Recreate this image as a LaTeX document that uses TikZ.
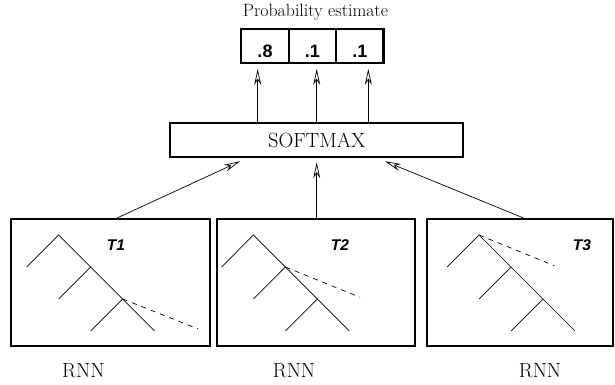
\documentclass[tikz,border=0pt]{standalone}
\usepackage{fontspec}
\newfontfamily\hv{Liberation Sans}
\usetikzlibrary{arrows.meta}

\begin{document}
\begin{tikzpicture}[x=1pt,y=-1pt,
  frame/.style={draw,line width=2.2pt,rectangle,inner sep=0pt},
  % digits sit low in their cells: baseline about 11.5pt below the centre
  cell/.style={frame,minimum width=47.4pt,minimum height=34pt,text height=23pt,text depth=0pt,
    font=\hv\bfseries\fontsize{18}{18}\selectfont},
  rnnbox/.style={frame,minimum height=127pt},
  arr/.style={line width=0.7pt,-{Stealth[open,length=16pt,width=7pt,inset=5pt,line width=0.7pt]}},
  branch/.style={line width=0.7pt},
  guess/.style={line width=0.7pt,dash pattern=on 5pt off 5pt},
  tag/.style={font=\hv\bfseries\itshape\fontsize{15.5}{15.5}\selectfont},
  caption/.style={font=\fontsize{20.5}{20.5}\selectfont}
]
\useasboundingbox (0,0) rectangle (615,384);

% output distribution
\node[font=\fontsize{17.8}{17.8}\selectfont] (title) at (315.5,12) {Probability estimate};
\node[cell] (p1) at (265,46.3) {.8};
\node[cell] (p2) at (312.4,46.3) {.1};
\node[cell] (p3) at (359.8,46.3) {.1};

% softmax layer
\node[frame,minimum width=293.3pt,minimum height=33.4pt,caption] (sm) at (316.7,140) {SOFTMAX};

% three recursive networks
\node[rnnbox,minimum width=199pt] (b1) at (110.5,282.5) {};
\node[rnnbox,minimum width=198.3pt] (b2) at (315.8,282.5) {};
\node[rnnbox,minimum width=186.3pt] (b3) at (519.8,282.5) {};

\node[tag] (t1) at (116,245) {T1};
\node[tag] (t2) at (340,245) {T2};
\node[tag] (t3) at (582,245) {T3};

\node[caption] (r1) at (83.3,371) {RNN};
\node[caption] (r2) at (294,371) {RNN};
\node[caption] (r3) at (540,371) {RNN};

% softmax to probabilities
\draw[arr] ([xshift=-59pt]sm.north) -- ([xshift=-7.3pt,yshift=-4.5pt]p1.south);
\draw[arr] (sm.north) -- ([xshift=4.3pt,yshift=-4.5pt]p2.south);
\draw[arr] ([xshift=51.6pt]sm.north) -- ([xshift=8.5pt,yshift=-4.5pt]p3.south);

% networks to softmax
\draw[arr] ([xshift=6.8pt]b1.north) -- ([xshift=-76.7pt,yshift=-3.5pt]sm.south);
\draw[arr] ([xshift=0.9pt]b2.north) -- ([yshift=-4.5pt]sm.south);
\draw[arr] ([xshift=3.5pt]b3.north) -- ([xshift=68.3pt,yshift=-3.5pt]sm.south);

% tree 1
\draw[branch] (26.7,267) -- (58.7,235) -- (154.7,331);
\draw[branch] (90.7,267) -- (58.7,299);
\draw[branch] (122.7,299) -- (90.7,331);
\draw[guess] (122.7,299) -- (198.3,329);

% tree 2
\draw[branch] (221.7,267) -- (253.3,235) -- (349.3,331);
\draw[branch] (285.3,267) -- (253.3,299);
\draw[branch] (317.3,299) -- (285.3,331);
\draw[guess] (285.3,267) -- (360,297.3);

% tree 3
\draw[branch] (447,267) -- (479,235) -- (575,331);
\draw[branch] (511,267) -- (479,299);
\draw[branch] (543,299) -- (511,331);
\draw[guess] (479,235) -- (554.3,265.7);
\end{tikzpicture}
\end{document}
